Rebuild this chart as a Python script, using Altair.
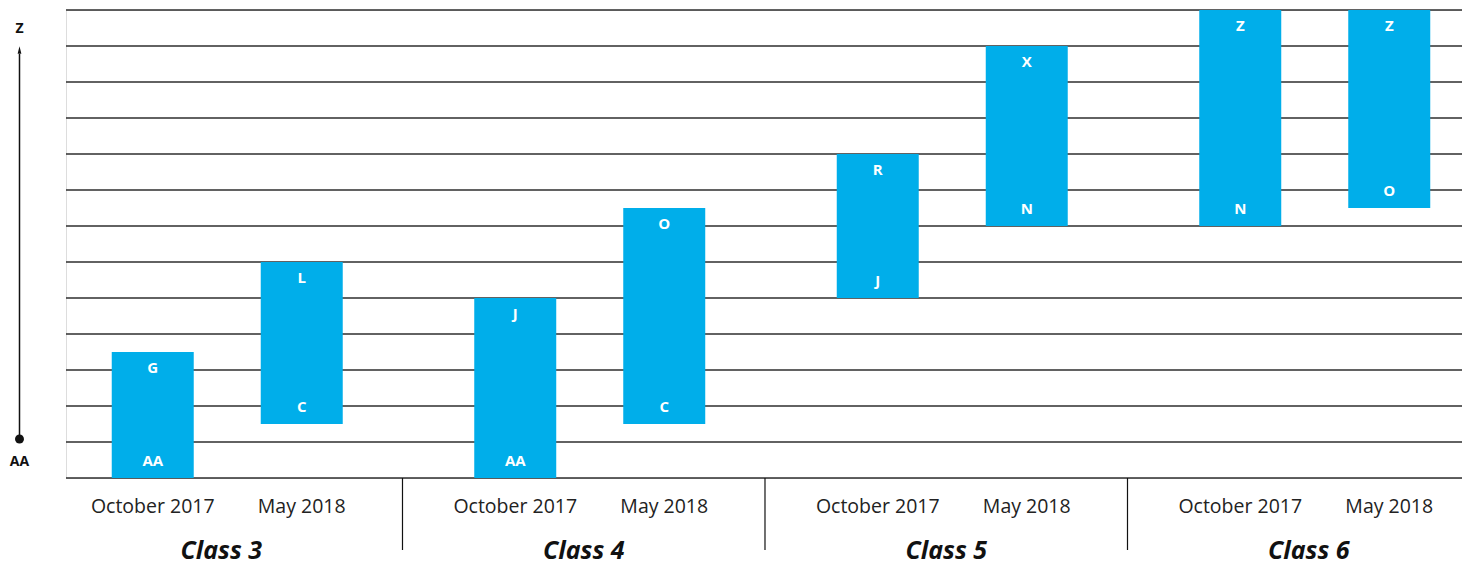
import altair as alt
import pandas as pd

levels = ["AA"] + [chr(c) for c in range(ord("A"), ord("Z") + 1)]
class_order = ["Class 3", "Class 4", "Class 5", "Class 6"]
period_order = ["October 2017", "May 2018"]

bar_class = ["Class 3", "Class 3", "Class 4", "Class 4", "Class 5", "Class 5", "Class 6", "Class 6"]
bar_period = ["October 2017", "May 2018"] * 4
low_level = ["AA", "C", "AA", "C", "J", "N", "N", "O"]
high_level = ["G", "L", "J", "O", "R", "X", "Z", "Z"]
grid_levels = levels[::2]

df = pd.DataFrame({
    "cls": bar_class,
    "period": bar_period,
    "low": low_level,
    "high": high_level,
})
df["lo_i"] = df["low"].map(levels.index)
df["hi_i"] = df["high"].map(levels.index)

grid_df = pd.DataFrame({"lvl": grid_levels})
grid_df["gi"] = grid_df["lvl"].map(levels.index)
cls_df = pd.DataFrame({"cls": class_order})
sep_df = pd.DataFrame({"cls": class_order[:-1]})
one = pd.DataFrame({"a": [0]})

BLUE = "#00AEEA"
FONT = "Open Sans"
INK = "#111111"

xscale = alt.Scale(domain=class_order, paddingInner=0.1876, paddingOuter=0.0193, align=1)
xoff = alt.XOffset("period:N", scale=alt.Scale(domain=period_order, paddingInner=0.4497, paddingOuter=0.2131))
X = alt.X("cls:N", scale=xscale, axis=None)
yscale = alt.Scale(domain=[0, 26], nice=False, zero=False)

grid = alt.Chart(grid_df).mark_rule(color="#2e2e2e", strokeWidth=1.4).encode(
    y=alt.Y("gi:Q", scale=yscale, axis=None)
)

bars = alt.Chart(df).mark_bar(color=BLUE, cornerRadius=0).encode(
    x=X, xOffset=xoff, y=alt.Y("hi_i:Q", scale=yscale, axis=None), y2="lo_i:Q"
)

top_lab = alt.Chart(df).mark_text(color="white", fontWeight="bold", fontSize=15, dy=16,
                                  baseline="middle", font=FONT).encode(
    x=X, xOffset=xoff, y=alt.Y("hi_i:Q", scale=yscale, axis=None), text="high:N"
)
bot_lab = alt.Chart(df).mark_text(color="white", fontWeight="bold", fontSize=15, dy=-17,
                                  baseline="middle", font=FONT).encode(
    x=X, xOffset=xoff, y=alt.Y("lo_i:Q", scale=yscale, axis=None), text="low:N"
)

date_lab = alt.Chart(df).mark_text(color="#222222", fontSize=19.5, baseline="alphabetic", font=FONT).encode(
    x=X, xOffset=xoff, y=alt.value(503), text="period:N"
)

class_lab = alt.Chart(cls_df).mark_text(color=INK, fontSize=25, fontWeight="bold", dx=-6,
                                        fontStyle="italic", baseline="alphabetic", font=FONT).encode(
    x=X, y=alt.value(549), text="cls:N"
)

seps = alt.Chart(sep_df).mark_rule(color=INK, strokeWidth=1.2, xOffset=28).encode(
    x=alt.X("cls:N", scale=xscale, axis=None, bandPosition=1),
    y=alt.value(468), y2=alt.value(540)
)

arrow_line = alt.Chart(one).mark_rule(color=INK, strokeWidth=1.5).encode(
    x=alt.value(-46.5), y=alt.value(428), y2=alt.value(44)
)
arrow_head = alt.Chart(one).mark_point(filled=True, color=INK, opacity=1,
                                       shape="M-0.25,0.5L0,-0.5L0.25,0.5Z", size=225).encode(
    x=alt.value(-46.5), y=alt.value(40)
)
dot = alt.Chart(one).mark_point(filled=True, color=INK, opacity=1, shape="circle", size=80).encode(
    x=alt.value(-46.5), y=alt.value(429)
)
z_lab = alt.Chart(one).mark_text(text="Z", fontWeight="bold", fontSize=14, color=INK,
                                 baseline="middle", font=FONT).encode(
    x=alt.value(-46.5), y=alt.value(19)
)
aa_lab = alt.Chart(one).mark_text(text="AA", fontWeight="bold", fontSize=14, color=INK,
                                  baseline="middle", font=FONT).encode(
    x=alt.value(-46.5), y=alt.value(452)
)

chart = alt.layer(
    grid, bars, top_lab, bot_lab, date_lab, class_lab, seps,
    arrow_line, arrow_head, dot, z_lab, aa_lab
).properties(
    width=1396, height=468,
    autosize=alt.AutoSizeParams(type="none"),
    padding={"left": 58, "top": 2, "right": 0, "bottom": 88},
).configure_view(stroke=None).configure(font=FONT)

chart.save("out.html", embed_options={"renderer": "svg", "actions": False})
